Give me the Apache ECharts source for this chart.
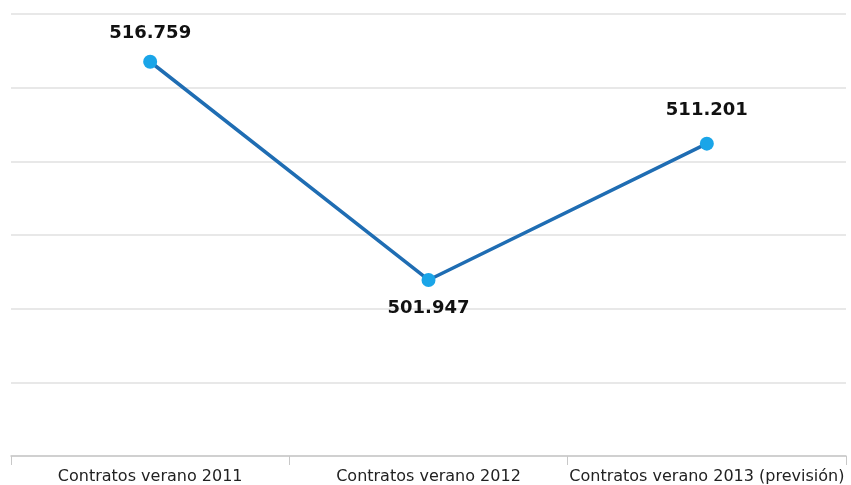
<!DOCTYPE html>
<html><head><meta charset="utf-8">
<script src="https://cdn.jsdelivr.net/npm/echarts@6/dist/echarts.min.js"></script>
<style>html,body{margin:0;padding:0;background:#fff}#c{width:851px;height:485px}</style>
</head><body><div id="c"></div>
<script>
const categories = ['Contratos verano 2011', 'Contratos verano 2012', 'Contratos verano 2013 (previsión)'];
const values = [516.759, 501.947, 511.201];
const labelPositions = ['top', 'bottom', 'top'];

const chart = echarts.init(document.getElementById('c'));
chart.setOption({
  animation: false,
  grid: { left: 11, right: 5, top: 14, bottom: 28, containLabel: false },
  xAxis: {
    type: 'category', data: categories, boundaryGap: true,
    axisLine: { lineStyle: { color: '#c8c8c8', width: 1.5 } },
    axisTick: { show: true, length: 9, lineStyle: { color: '#c8c8c8' } },
    axisLabel: { interval: 0, color: '#222', fontFamily: 'DejaVu Sans', fontSize: 16, margin: 13 }
  },
  yAxis: {
    type: 'value', min: 490, max: 520, interval: 5,
    axisLine: { show: false }, axisTick: { show: false }, axisLabel: { show: false },
    splitLine: { lineStyle: { color: '#e8e8e8', width: 2 } }
  },
  series: [{
    type: 'line', data: values.map((v, i) => ({
      value: v,
      label: { position: labelPositions[i], distance: i === 2 ? 17 : 12 }
    })),
    lineStyle: { color: '#1f6db3', width: 3.5 },
    itemStyle: { color: '#1aa5e8' },
    symbol: 'circle', symbolSize: 14,
    label: {
      show: true, color: '#111', fontFamily: 'DejaVu Sans', fontWeight: 'bold', fontSize: 18,
      formatter: p => p.value.toFixed(3)
    }
  }]
});
</script></body></html>
